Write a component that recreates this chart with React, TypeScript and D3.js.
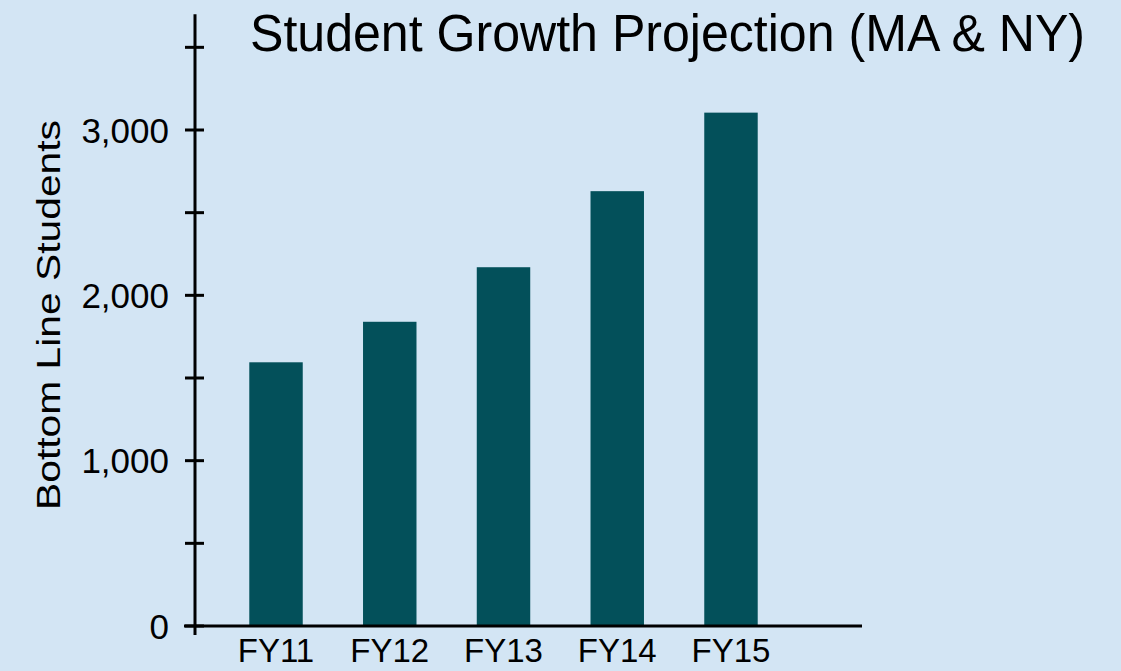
import React, { useEffect, useRef } from "react";
import * as d3 from "d3";

const categories = ["FY11", "FY12", "FY13", "FY14", "FY15"];
const students = [1595, 1840, 2170, 2630, 3105];
const labelTicks = [0, 1000, 2000, 3000];
const allTicks = [0, 500, 1000, 1500, 2000, 2500, 3000, 3500];

const title = "Student Growth Projection (MA & NY)";
const yTitle = "Bottom Line Students";

const width = 1121;
const height = 671;
const bg = "#d3e5f4";
const barColor = "#03505a";
const font = "'Liberation Sans', Arial, sans-serif";

export default function App() {
    const svgRef = useRef<SVGSVGElement>(null);

    useEffect(() => {
        const svg = d3.select(svgRef.current);
        svg.selectAll("*").remove();

        const x = d3.scaleBand()
            .domain(categories)
            .range([189, 818])
            .padding(0.53);

        const y = d3.scaleLinear()
            .domain([0, 3000])
            .range([626, 130]);

        svg.append("rect")
            .attr("width", width)
            .attr("height", height)
            .attr("fill", bg);

        // bars
        svg.selectAll(".bar")
            .data(categories)
            .enter()
            .append("rect")
            .attr("class", "bar")
            .attr("x", (d) => x(d))
            .attr("y", (d, i) => y(students[i]))
            .attr("width", x.bandwidth())
            .attr("height", (d, i) => y(0) - y(students[i]))
            .attr("fill", barColor);

        // y axis line and ticks
        const axisX = 195;
        svg.append("line")
            .attr("x1", axisX).attr("x2", axisX)
            .attr("y1", y(3700)).attr("y2", y(0) + 9)
            .attr("stroke", "#000")
            .attr("stroke-width", 3);

        svg.selectAll(".ytick")
            .data(allTicks)
            .enter()
            .append("line")
            .attr("x1", axisX - 10).attr("x2", axisX + 9)
            .attr("y1", (d) => y(d)).attr("y2", (d) => y(d))
            .attr("stroke", "#000")
            .attr("stroke-width", 3);

        svg.selectAll(".ylabel")
            .data(labelTicks)
            .enter()
            .append("text")
            .attr("x", 169)
            .attr("y", (d) => y(d))
            .attr("dy", "0.36em")
            .attr("text-anchor", "end")
            .attr("font-family", font)
            .attr("font-size", 35)
            .attr("fill", "#000")
            .text((d) => d3.format(",")(d));

        // x axis line
        svg.append("line")
            .attr("x1", 184).attr("x2", 862)
            .attr("y1", y(0)).attr("y2", y(0))
            .attr("stroke", "#000")
            .attr("stroke-width", 3);

        svg.selectAll(".xlabel")
            .data(categories)
            .enter()
            .append("text")
            .attr("x", (d) => x(d) + x.bandwidth() / 2)
            .attr("y", 662)
            .attr("text-anchor", "middle")
            .attr("font-family", font)
            .attr("font-size", 33)
            .attr("fill", "#000")
            .text((d) => d);

        svg.append("text")
            .attr("transform", `translate(60, 315) rotate(-90)`)
            .attr("text-anchor", "middle")
            .attr("font-family", font)
            .attr("font-size", 34)
            .attr("fill", "#000")
            .attr("textLength", 390)
            .attr("lengthAdjust", "spacingAndGlyphs")
            .text(yTitle);

        svg.append("text")
            .attr("x", 250)
            .attr("y", 51)
            .attr("font-family", font)
            .attr("font-size", 51)
            .attr("fill", "#000")
            .attr("textLength", 835)
            .attr("lengthAdjust", "spacingAndGlyphs")
            .text(title);
    }, []);

    return (
        <div style={{ position: "absolute", left: 0, top: 0, width, height, background: bg }}>
            <svg ref={svgRef} width={width} height={height} style={{ display: "block" }}></svg>
        </div>
    );
}
